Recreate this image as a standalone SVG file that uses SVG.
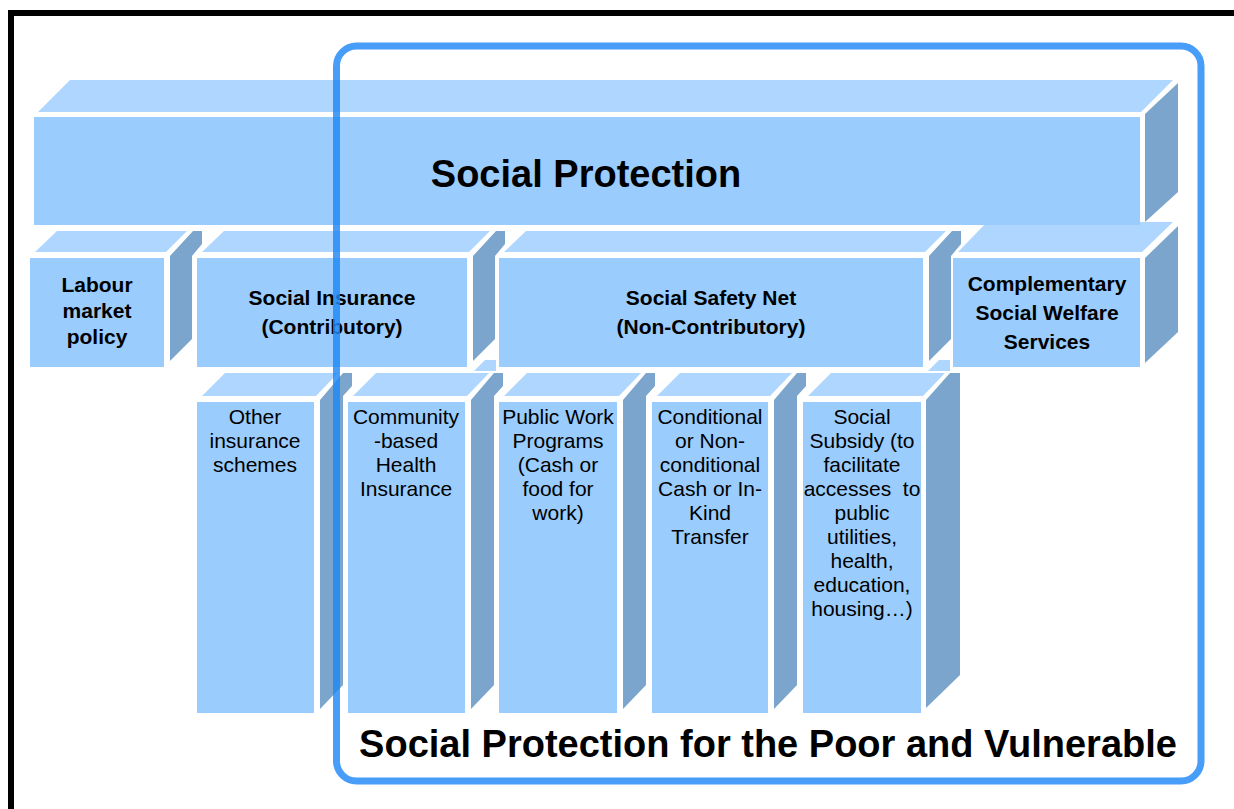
<svg xmlns="http://www.w3.org/2000/svg" width="1234" height="809" viewBox="0 0 1234 809">
<style>
.fr{fill:#9ACCFE}
.tp{fill:#AFD6FE}
.sd{fill:#7BA5CC}
.b{font-family:"Liberation Sans",Arial,sans-serif;font-weight:bold;fill:#000;text-anchor:middle}
.r{font-family:"Liberation Sans",Arial,sans-serif;font-size:21px;fill:#000;text-anchor:middle}
</style>
<rect width="1234" height="809" fill="#fff"/>
<rect x="11" y="13" width="1400" height="1000" fill="none" stroke="#000" stroke-width="6"/>

<g id="col-other">
<polygon class="tp" points="202,396 225,373 338,373 316,396"/>
<polygon class="sd" points="320,400 343,373 352,373 352,386 343,396 343,685 320,709"/>
<rect class="fr" x="197" y="402" width="117" height="311"/>
<text class="r" x="255" y="424">Other</text>
<text class="r" x="255" y="448">insurance</text>
<text class="r" x="255" y="472">schemes</text>
</g>
<g id="col-community">
<polygon class="tp" points="353,396 376,373 489,373 467,396"/>
<polygon class="tp" points="474,371 485,360 496,360 496,371"/>
<polygon class="sd" points="471,400 494,373 503,373 503,386 494,396 494,685 471,709"/>
<rect class="fr" x="348" y="402" width="117" height="311"/>
<text class="r" x="406" y="424">Community</text>
<text class="r" x="406" y="448">-based</text>
<text class="r" x="406" y="472">Health</text>
<text class="r" x="406" y="496">Insurance</text>
</g>
<g id="col-publicwork">
<polygon class="tp" points="504,396 527,373 641,373 619,396"/>
<polygon class="sd" points="623,400 646,373 655,373 655,386 646,396 646,685 623,709"/>
<rect class="fr" x="499" y="402" width="118" height="311"/>
<text class="r" x="558" y="424">Public Work</text>
<text class="r" x="558" y="448">Programs</text>
<text class="r" x="558" y="472">(Cash or</text>
<text class="r" x="558" y="496">food for</text>
<text class="r" x="558" y="520">work)</text>
</g>
<g id="col-transfer">
<polygon class="tp" points="657,396 680,373 792,373 770,396"/>
<polygon class="sd" points="774,400 797,373 806,373 806,386 797,396 797,685 774,709"/>
<rect class="fr" x="652" y="402" width="116" height="311"/>
<text class="r" x="710" y="424">Conditional</text>
<text class="r" x="710" y="448">or Non-</text>
<text class="r" x="710" y="472">conditional</text>
<text class="r" x="710" y="496">Cash or In-</text>
<text class="r" x="710" y="520">Kind</text>
<text class="r" x="710" y="544">Transfer</text>
</g>
<g id="col-subsidy">
<polygon class="tp" points="808,396 831,373 945,373 923,396"/>
<polygon class="tp" points="928,371 939,360 950,360 950,371"/>
<polygon class="sd" points="926,400 950,373 960,373 960,675 926,708"/>
<rect class="fr" x="803" y="402" width="118" height="311"/>
<text class="r" x="862" y="424">Social</text>
<text class="r" x="862" y="448">Subsidy (to</text>
<text class="r" x="862" y="472">facilitate</text>
<text class="r" x="862" y="496">accesses&#160; to</text>
<text class="r" x="862" y="520">public</text>
<text class="r" x="862" y="544">utilities,</text>
<text class="r" x="862" y="568">health,</text>
<text class="r" x="862" y="592">education,</text>
<text class="r" x="862" y="616">housing…)</text>
</g>

<g id="labour">
<polygon class="tp" points="35,252 57,231 187,231 166,252"/>
<polygon class="sd" points="170,256 193,231 202,231 202,244 192,256 192,339 170,361"/>
<rect class="fr" x="30" y="258" width="134" height="109"/>
<text class="b" font-size="21" x="97" y="292">Labour</text>
<text class="b" font-size="21" x="97" y="318">market</text>
<text class="b" font-size="21" x="97" y="344">policy</text>
</g>
<g id="social-insurance">
<polygon class="tp" points="202,252 224,231 490,231 469,252"/>
<polygon class="sd" points="473,256 496,231 505,231 505,244 495,256 495,339 473,361"/>
<rect class="fr" x="197" y="258" width="270" height="109"/>
<text class="b" font-size="21" x="332" y="305">Social Insurance</text>
<text class="b" font-size="21" x="332" y="334">(Contributory)</text>
</g>
<g id="social-safety-net">
<polygon class="tp" points="504,252 526,231 946,231 925,252"/>
<polygon class="sd" points="929,256 952,231 961,231 961,244 951,256 951,339 929,361"/>
<rect class="fr" x="499" y="258" width="424" height="109"/>
<text class="b" font-size="21" x="711" y="305">Social Safety Net</text>
<text class="b" font-size="21" x="711" y="334">(Non-Contributory)</text>
</g>
<g id="complementary">
<polygon class="tp" points="958,252 987,222 1173,222 1142,252"/>
<polygon class="sd" points="1145,258 1178,226 1178,332 1145,363"/>
<rect class="fr" x="953" y="258" width="187" height="109"/>
<text class="b" font-size="21" x="1047" y="291">Complementary</text>
<text class="b" font-size="21" x="1047" y="320">Social Welfare</text>
<text class="b" font-size="21" x="1047" y="349">Services</text>
</g>

<g id="social-protection">
<polygon class="tp" points="38,112 70,80 1173,80 1141,112"/>
<polygon class="sd" points="1145,114 1178,83 1178,192 1145,222"/>
<rect class="fr" x="34" y="117" width="1106" height="108"/>
<text class="b" font-size="38" x="586" y="187">Social Protection</text>
</g>

<g id="poor-vulnerable">
<rect x="336.5" y="46" width="864.5" height="735" rx="20" fill="none" stroke="#1E88F5" stroke-opacity="0.82" stroke-width="7"/>
<text class="b" font-size="38" x="768" y="757">Social Protection for the Poor and Vulnerable</text>
</g>
<g id="connectors"/>
</svg>
